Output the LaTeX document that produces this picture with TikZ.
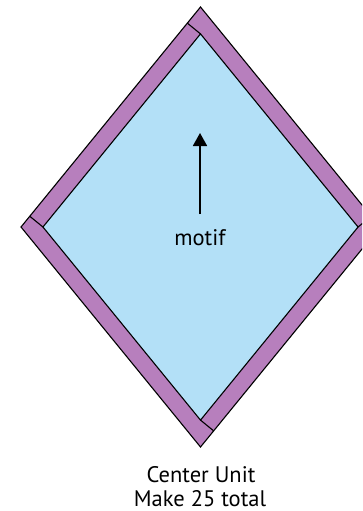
\documentclass[tikz,border=0pt]{standalone}
\usepackage{fontspec}
\setmainfont{PT Sans}
\usetikzlibrary{arrows.meta}
\definecolor{strip}{RGB}{183,127,189}
\definecolor{motifblue}{RGB}{179,224,247}
\tikzset{
  outline/.style={draw=black, line width=1.1pt, line join=miter},
  label/.style={font=\fontsize{22.5}{24}\selectfont, inner sep=0pt, anchor=base},
  dirarrow/.style={line width=1.8pt, -{Triangle[length=13pt,width=14pt]}}
}
\begin{document}
\begin{tikzpicture}[x=1pt,y=-1pt]
  \useasboundingbox (0,0) rectangle (362,511);
  \begin{scope}
    \clip (0,0) rectangle (362,511);
    % outer diamond
    \coordinate (OT) at (200.5,7);
    \coordinate (OR) at (380,227);
    \coordinate (OB) at (200.5,447);
    \coordinate (OL) at (21,227);
    % inner diamond
    \coordinate (IT) at (200.5,33.89);
    \coordinate (IR) at (358.06,227);
    \coordinate (IB) at (200.5,420.11);
    \coordinate (IL) at (42.94,227);
    % cut ends
    \coordinate (CT) at (187.33,23.14);
    \coordinate (CR) at (371.23,216.25);
    \coordinate (CB) at (213.67,430.86);
    \coordinate (CL) at (29.77,216.25);
    \fill[strip] (OT) -- (OR) -- (OB) -- (OL) -- cycle;
    \fill[motifblue] (IT) -- (IR) -- (IB) -- (IL) -- cycle;
    \draw[outline] (OT) -- (OR) -- (OB) -- (OL) -- cycle;
    \draw[outline] (IT) -- (IR) -- (IB) -- (IL) -- cycle;
    \draw[outline] (IT) -- (CT);
    \draw[outline] (IR) -- (CR);
    \draw[outline] (IB) -- (CB);
    \draw[outline] (IL) -- (CL);
  \end{scope}
  \coordinate (arrowfoot) at (200,214);
  \coordinate (arrowtip) at (200,133);
  \draw[dirarrow] (arrowfoot) -- (arrowtip);
  \node[label] (motif) at (200,245) {motif};
  \node[label] (unit) at (201,482) {Center Unit};
  \node[label] (make) at (200,506) {Make 25 total};
\end{tikzpicture}
\end{document}
